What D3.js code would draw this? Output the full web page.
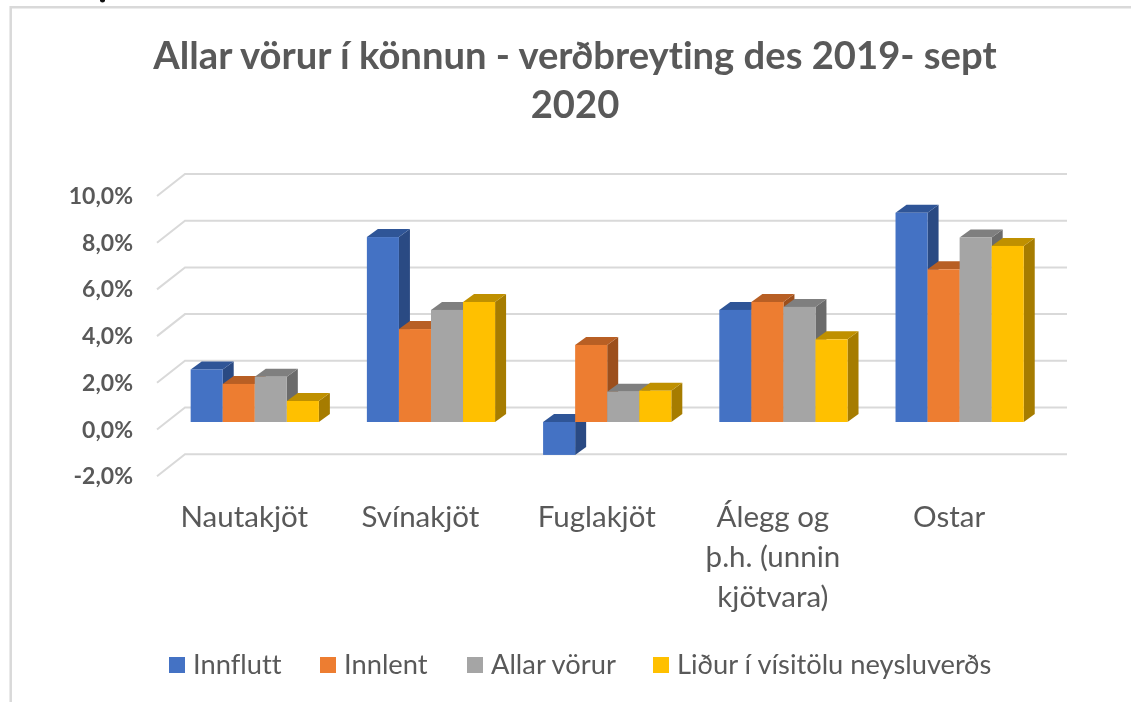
<!DOCTYPE html>
<html>
<head>
<meta charset="utf-8">
<script src="https://cdn.jsdelivr.net/npm/d3@7"></script>
<style>
    html, body { margin: 0; padding: 0; background: #fff; overflow: hidden; }
    svg { display: block; font-family: Lato, sans-serif; font-variant-ligatures: none; filter: blur(0.55px); }
    text { fill: #595959; }
</style>
</head>
<body>
<script>
const categories = ['Nautakjöt', 'Svínakjöt', 'Fuglakjöt', 'Álegg og þ.h. (unnin kjötvara)', 'Ostar'];
const categoryLines = [['Nautakjöt'], ['Svínakjöt'], ['Fuglakjöt'], ['Álegg og', 'þ.h. (unnin', 'kjötvara)'], ['Ostar']];
const seriesNames = ['Innflutt', 'Innlent', 'Allar vörur', 'Liður í vísitölu neysluverðs'];
const innflutt = [2.25, 7.92, -1.41, 4.8, 8.96];
const innlent = [1.63, 3.98, 3.3, 5.14, 6.54];
const allarVorur = [1.94, 4.8, 1.3, 4.93, 7.9];
const vísitala = [0.9, 5.14, 1.34, 3.54, 7.54];
const seriesValues = [innflutt, innlent, allarVorur, vísitala];
const tickValues = [-2, 0, 2, 4, 6, 8, 10];
const titleLines = ['Allar vörur í könnun - verðbreyting des 2019- sept', '2020'];

// front, top, side
const colors = [
    ['#4472c4', '#2f5597', '#2a4a83'],
    ['#ed7d31', '#b85f24', '#9c4f1c'],
    ['#a5a5a5', '#7f7f7f', '#6b6b6b'],
    ['#ffc000', '#bf9000', '#a67c00']
];

const width = 1131, height = 702;
const depthX = 11, depthY = 8;      // bar depth
const wallX = 28, wallY = 22;       // floor depth

const svg = d3.select('body').append('svg')
    .attr('width', width)
    .attr('height', height);

// speck left over from the crop above the chart
svg.append('ellipse')
    .attr('cx', 102.5)
    .attr('cy', 0.5)
    .attr('rx', 2.5)
    .attr('ry', 2)
    .attr('fill', '#111');

// chart frame, cut off by the screenshot on the right and bottom
svg.append('path')
    .attr('d', 'M10.7,702V7.3H1131')
    .attr('fill', 'none')
    .attr('stroke', '#d9d9d9')
    .attr('stroke-width', 2.5);

const title = svg.append('g')
    .attr('font-size', 38.2)
    .attr('font-weight', 700)
    .attr('text-anchor', 'middle');
titleLines.forEach((line, i) => {
    title.append('text')
        .attr('x', 575)
        .attr('y', 69 + i * 49)
        .text(line);
});

const y = d3.scaleLinear().domain([0, 10]).range([422, 188.5]);
const x = d3.scaleBand()
    .domain(categories)
    .range([166.7, 1047.7])
    .paddingInner(0.2724)
    .paddingOuter(0.136);
const xSeries = d3.scaleBand()
    .domain(d3.range(seriesNames.length))
    .range([0, x.bandwidth()]);

// gridlines sit on the back wall, with a diagonal on the floor side
const backY = v => y(v) - 14.5;
const grid = svg.append('g')
    .attr('fill', 'none')
    .attr('stroke', '#d9d9d9')
    .attr('stroke-width', 2);
grid.selectAll('path')
    .data(tickValues)
    .join('path')
    .attr('d', d => `M${185 - wallX},${backY(d) + wallY}L185,${backY(d)}H1067`);

const labels = svg.append('g')
    .attr('font-size', 23)
    .attr('font-weight', 700)
    .attr('text-anchor', 'end');
labels.selectAll('text')
    .data(tickValues)
    .join('text')
    .attr('x', 133)
    .attr('y', d => backY(d) + 30)
    .text(d => d3.format('.1f')(d).replace('.', ',').replace('−', '-') + '%');

// bars go left to right so each front covers the side of the one before it
const bars = svg.append('g');
categories.forEach((cat, c) => {
    seriesValues.forEach((values, s) => {
        const v = values[c];
        const x0 = x(cat) + xSeries(s);
        const x1 = x0 + xSeries.bandwidth();
        const top = y(Math.max(v, 0));
        const bottom = y(Math.min(v, 0));
        const bar = bars.append('g');
        bar.append('path')
            .attr('fill', colors[s][2])
            .attr('d', `M${x1},${top}l${depthX},${-depthY}V${bottom - depthY}L${x1},${bottom}Z`);
        bar.append('path')
            .attr('fill', colors[s][1])
            .attr('d', `M${x0},${top}l${depthX},${-depthY}H${x1 + depthX}L${x1},${top}Z`);
        bar.append('rect')
            .attr('x', x0)
            .attr('y', top)
            .attr('width', x1 - x0)
            .attr('height', bottom - top)
            .attr('fill', colors[s][0]);
    });
});

const catLabels = svg.append('g')
    .attr('font-size', 29.5)
    .attr('text-anchor', 'middle');
categories.forEach((cat, c) => {
    categoryLines[c].forEach((line, i) => {
        catLabels.append('text')
            .attr('x', x(cat) + x.bandwidth() / 2 - 10.5)
            .attr('y', 527 + i * 40)
            .text(line);
    });
});

const legendX = [169, 320, 467, 653];
const legend = svg.append('g').attr('font-size', 27.3);
seriesNames.forEach((name, s) => {
    legend.append('rect')
        .attr('x', legendX[s])
        .attr('y', 657)
        .attr('width', 16)
        .attr('height', 16)
        .attr('fill', colors[s][0]);
    legend.append('text')
        .attr('x', legendX[s] + 24)
        .attr('y', 674)
        .text(name);
});
</script>
</body>
</html>
